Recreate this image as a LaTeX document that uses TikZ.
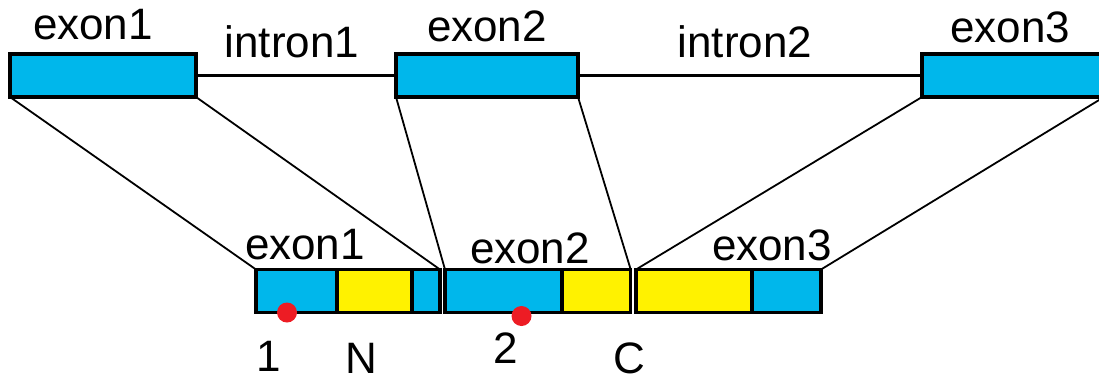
\documentclass[tikz,border=0pt]{standalone}
\usepackage{fontspec}
\setmainfont{Liberation Sans}
\definecolor{exblue}{RGB}{0,183,235}
\definecolor{exyellow}{RGB}{255,242,0}
\definecolor{dotred}{RGB}{237,28,36}
\begin{document}
\begin{tikzpicture}[x=1pt,y=-1pt,
  seg/.style={draw=black,line width=3.2pt,minimum height=43pt,inner sep=0pt,outer sep=0pt,anchor=center},
  blueseg/.style={seg,fill=exblue},
  yellseg/.style={seg,fill=exyellow},
  lbl/.style={inner sep=0pt,font=\fontsize{44}{46}\selectfont},
  conn/.style={line width=1.8pt},
  intron/.style={line width=3.2pt},
  dot/.style={circle,fill=dotred,inner sep=0pt,minimum size=20pt}]
\useasboundingbox (0,0) rectangle (1099,381);
\clip (0,0) rectangle (1099,381);
% top gene
\node[blueseg,minimum width=186pt] (e1) at (103,75.5) {};
\node[blueseg,minimum width=182pt] (e2) at (487,75.5) {};
\node[blueseg,minimum width=182pt] (e3) at (1013,75.5) {};
\draw[intron] (e1.east) -- (e2.west);
\draw[intron] (e2.east) -- (e3.west);
\node[lbl] (t1) at (93,25) {exon1};
\node[lbl] (t2) at (292,42) {intron1};
\node[lbl] (t3) at (487,26) {exon2};
\node[lbl] (t4) at (745,42) {intron2};
\node[lbl] (t5) at (1010,27) {exon3};
% bottom mRNA
\node[blueseg,minimum width=81pt] (b1a) at (296.5,291) {};
\node[yellseg,minimum width=75pt] (b1b) at (374.5,291) {};
\node[blueseg,minimum width=28pt] (b1c) at (426,291) {};
\node[blueseg,minimum width=117pt] (b2a) at (503.5,291) {};
\node[yellseg,minimum width=68.7pt] (b2b) at (596.35,291) {};
\node[yellseg,minimum width=116pt] (b2c) at (694,291) {};
\node[blueseg,minimum width=69pt] (b2d) at (786.5,291) {};
% connectors
\draw[conn] (e1.south west) -- (b1a.north west);
\draw[conn] (e1.south east) -- (b1c.north east);
\draw[conn] (e2.south west) -- (b2a.north west);
\draw[conn] (e2.south east) -- (b2b.north east);
\draw[conn] (e3.south west) -- (b2c.north west);
\draw[conn] (e3.south east) -- (b2d.north east);
% labels
\node[lbl] (l1) at (305,245) {exon1};
\node[lbl] (l2) at (530,248) {exon2};
\node[lbl] (l3) at (772,245) {exon3};
\node[dot] (d1) at (287,312.5) {};
\node[dot] (d2) at (521.5,316) {};
\node[lbl] (n1) at (269,356) {1};
\node[lbl] (nN) at (361,358) {N};
\node[lbl] (n2) at (506,348) {2};
\node[lbl] (nC) at (629,358) {C};
\end{tikzpicture}
\end{document}
